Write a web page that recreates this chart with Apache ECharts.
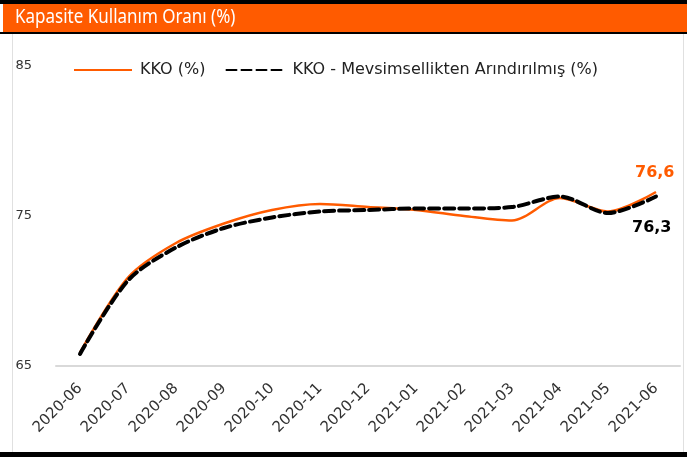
<!DOCTYPE html>
<html>
<head>
<meta charset="utf-8">
<script src="https://cdn.jsdelivr.net/npm/echarts@6/dist/echarts.min.js"></script>
<style>
  html, body { margin: 0; padding: 0; background: #fff; }
  #chart { width: 687px; height: 457px; }
</style>
</head>
<body>
<div id="chart"></div>
<script>
var months = ['2020-06', '2020-07', '2020-08', '2020-09', '2020-10', '2020-11', '2020-12',
              '2021-01', '2021-02', '2021-03', '2021-04', '2021-05', '2021-06'];
// KKO (%)
var kko = [65.9, 70.9, 73.2, 74.5, 75.4, 75.8, 75.6, 75.4, 75.0, 74.7, 76.2, 75.3, 76.6];
// KKO - Mevsimsellikten Arındırılmış (%)
var kkoSA = [65.8, 70.7, 72.9, 74.2, 74.9, 75.3, 75.4, 75.5, 75.5, 75.6, 76.3, 75.2, 76.3];
var yTicks = [65, 75, 85];

var orange = '#ff5b00';

function commaFmt(arr) {
    return function () { return String(arr[arr.length - 1]).replace('.', ','); };
}

var chart = echarts.init(document.getElementById('chart'));
chart.setOption({
    animation: false,
    backgroundColor: '#fff',
    graphic: [
        { type: 'rect', shape: { x: 0, y: 0, width: 687, height: 4 }, style: { fill: '#000' } },
        { type: 'rect', shape: { x: 3, y: 4, width: 684, height: 28 }, style: { fill: orange } },
        { type: 'rect', shape: { x: 0, y: 32, width: 687, height: 2 }, style: { fill: '#000' } },
        { type: 'rect', shape: { x: 0, y: 452, width: 687, height: 5 }, style: { fill: '#000' } },
        { type: 'rect', shape: { x: 12, y: 34, width: 1, height: 418 }, style: { fill: '#e0e0e0' } },
        { type: 'rect', shape: { x: 683, y: 34, width: 1, height: 418 }, style: { fill: '#e0e0e0' } },
        {
            // condensed title: no narrow font available, so squeeze it horizontally
            type: 'text', x: 15, y: 7, scaleX: 0.85,
            style: { text: 'Kapasite Kullanım Oranı (%)', fill: '#fff', fontSize: 20, fontFamily: 'Noto Sans' }
        }
    ],
    legend: {
        left: 68, top: 57,
        itemWidth: 58, itemHeight: 16, itemGap: 20,
        itemStyle: { opacity: 0 },
        textStyle: { fontSize: 16, color: '#222', fontFamily: 'DejaVu Sans', padding: [0, 0, 0, 3] },
        data: ['KKO (%)', 'KKO - Mevsimsellikten Arındırılmış (%)']
    },
    grid: { left: 56, right: 7, top: 66, bottom: 91 },
    xAxis: {
        type: 'category',
        data: months,
        boundaryGap: true,
        axisLine: { lineStyle: { color: '#d9d9d9', width: 2 } },
        axisTick: { show: false },
        axisLabel: { rotate: 45, fontSize: 15, color: '#333', fontFamily: 'DejaVu Sans', margin: 20, interval: 0 }
    },
    yAxis: {
        type: 'value',
        min: yTicks[0], max: yTicks[yTicks.length - 1], interval: 10,
        splitLine: { show: false },
        axisLine: { show: false },
        axisTick: { show: false },
        axisLabel: { fontSize: 13, color: '#333', fontFamily: 'DejaVu Sans', margin: 24 }
    },
    series: [
        {
            name: 'KKO (%)',
            type: 'line',
            data: kko,
            smooth: 0.3,
            symbol: 'none',
            lineStyle: { color: orange, width: 2.5 },
            itemStyle: { color: orange },
            endLabel: {
                show: true, formatter: commaFmt(kko), offset: [-29, -19],
                color: orange, fontSize: 16, fontWeight: 'bold', fontFamily: 'DejaVu Sans'
            },
            z: 2
        },
        {
            name: 'KKO - Mevsimsellikten Arındırılmış (%)',
            type: 'line',
            data: kkoSA,
            smooth: 0.3,
            symbol: 'none',
            lineStyle: { color: '#000', width: 4, type: [10, 5], cap: 'round' },
            itemStyle: { color: '#000' },
            endLabel: {
                show: true, formatter: commaFmt(kkoSA), offset: [-32, 31],
                color: '#000', fontSize: 16, fontWeight: 'bold', fontFamily: 'DejaVu Sans'
            },
            z: 3
        }
    ]
});
</script>
</body>
</html>
